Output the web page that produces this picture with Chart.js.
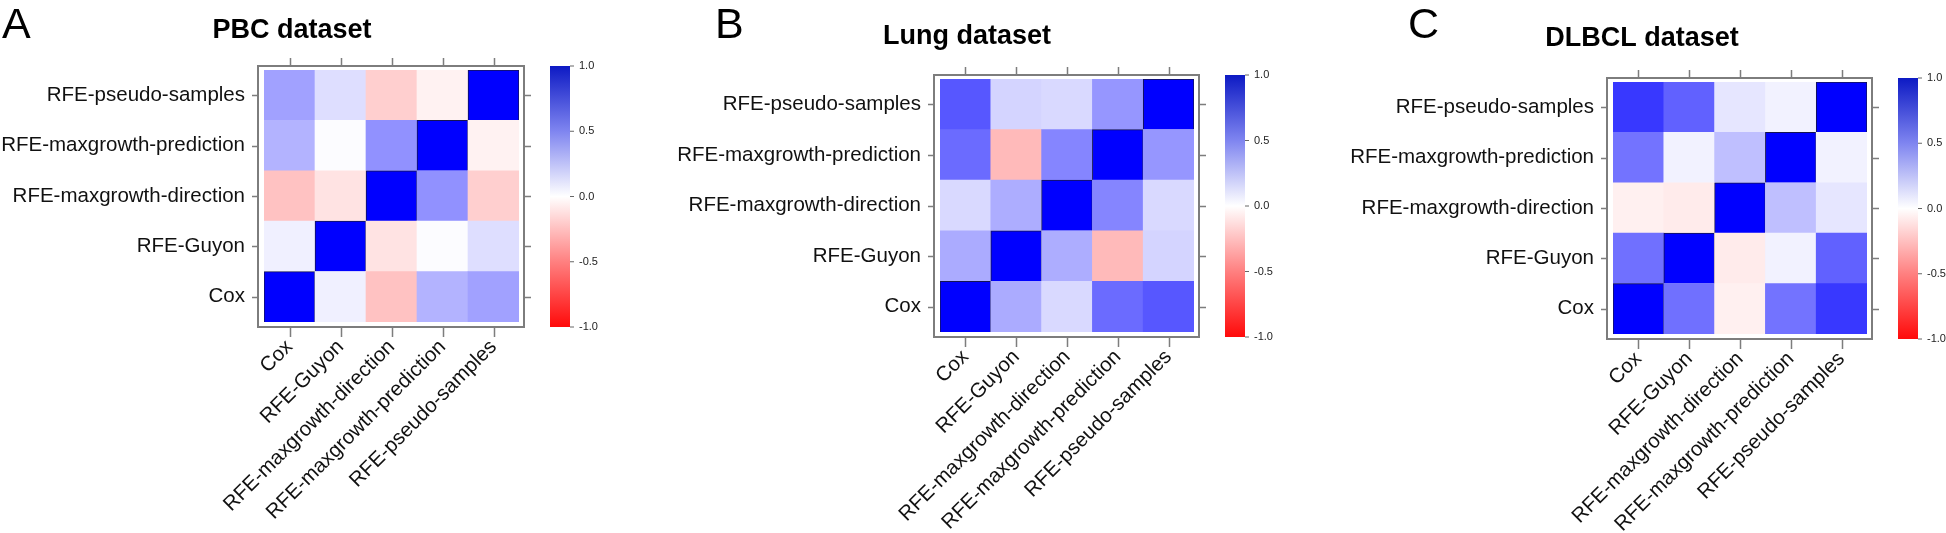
<!DOCTYPE html>
<html>
<head>
<meta charset="utf-8">
<script src="https://cdn.jsdelivr.net/npm/chart.js@4.4.1/dist/chart.umd.min.js"></script>
<style>
  html, body { margin: 0; padding: 0; background: #fff; }
  #wrap { position: relative; width: 1946px; height: 533px; overflow: hidden; }
  .panel { position: absolute; top: 0; width: 650px; height: 533px; }
</style>
</head>
<body>
<div id="wrap">
  <div class="panel" style="left:0px"><canvas id="pbc" width="650" height="533"></canvas></div>
  <div class="panel" style="left:650px"><canvas id="lung" width="650" height="533"></canvas></div>
  <div class="panel" style="left:1296px"><canvas id="dlbcl" width="650" height="533"></canvas></div>
</div>
<script>
// methods: columns left->right, rows bottom->top
const methods = ["Cox", "RFE-Guyon", "RFE-maxgrowth-direction", "RFE-maxgrowth-prediction", "RFE-pseudo-samples"];

// correlation matrices, row i belongs to methods[i]
const pbcCorr = [
  [ 1.00,  0.06, -0.24,  0.30,  0.37],
  [ 0.06,  1.00, -0.11,  0.01,  0.13],
  [-0.24, -0.11,  1.00,  0.43, -0.19],
  [ 0.30,  0.01,  0.43,  1.00, -0.05],
  [ 0.37,  0.13, -0.19, -0.05,  1.00]
];
const lungCorr = [
  [ 1.00,  0.33,  0.15,  0.58,  0.66],
  [ 0.33,  1.00,  0.32, -0.27,  0.17],
  [ 0.15,  0.32,  1.00,  0.48,  0.15],
  [ 0.58, -0.27,  0.48,  1.00,  0.41],
  [ 0.66,  0.17,  0.15,  0.41,  1.00]
];
const dlbclCorr = [
  [ 1.00,  0.56, -0.06,  0.55,  0.78],
  [ 0.56,  1.00, -0.08,  0.05,  0.62],
  [-0.06, -0.08,  1.00,  0.25,  0.10],
  [ 0.55,  0.05,  0.25,  1.00,  0.05],
  [ 0.78,  0.62,  0.10,  0.05,  1.00]
];

// colour key
const keyTicks = [-1, -0.5, 0, 0.5, 1];
const keyLabels = ["-1.0", "-0.5", "0.0", "0.5", "1.0"];

const FONT = "'Liberation Sans', Arial, Helvetica, sans-serif";

function corrColor(v) {
  const c = Math.round(255 * (1 - Math.min(1, Math.abs(v))));
  return v >= 0 ? `rgb(${c},${c},255)` : `rgb(255,${c},${c})`;
}

// frame, tick marks, colour key, title and panel letter
const decor = {
  id: "decor",
  afterDraw(chart, args, o) {
    const { ctx, chartArea: a, scales: { x, y } } = chart;
    const fl = a.left - 6, fr = a.right + 5, ft = a.top - 4, fb = a.bottom + 5;
    ctx.save();

    ctx.strokeStyle = "#7d7d7d";
    ctx.lineWidth = 2;
    ctx.strokeRect(fl, ft, fr - fl, fb - ft);

    ctx.lineWidth = 1.5;
    ctx.beginPath();
    methods.forEach((m, i) => {
      const px = Math.round(x.getPixelForTick(i)) + 0.5;
      ctx.moveTo(px, ft - 8); ctx.lineTo(px, ft);
      ctx.moveTo(px, fb); ctx.lineTo(px, fb + 10);
      const py = Math.round(y.getPixelForValue(i + 0.5)) + 0.5;
      ctx.moveTo(fl - 6, py); ctx.lineTo(fl, py);
      ctx.moveTo(fr, py); ctx.lineTo(fr + 7, py);
    });
    ctx.stroke();

    // colour key
    const kl = fr + 26, kw = 20, kt = ft, kb = fb;
    const g = ctx.createLinearGradient(0, kb, 0, kt);
    g.addColorStop(0, "#ff0a0a");
    g.addColorStop(0.25, "#ff8080");
    g.addColorStop(0.5, "#ffffff");
    g.addColorStop(0.75, "#7f85f0");
    g.addColorStop(1, "#0d1ac4");
    ctx.fillStyle = g;
    ctx.fillRect(kl, kt, kw, kb - kt);

    ctx.strokeStyle = "#666";
    ctx.lineWidth = 1;
    ctx.fillStyle = "#222";
    ctx.font = "11px " + FONT;
    ctx.textAlign = "left";
    ctx.textBaseline = "middle";
    keyTicks.forEach((v, i) => {
      const py = kb - (v + 1) / 2 * (kb - kt);
      ctx.beginPath();
      ctx.moveTo(kl + kw, py); ctx.lineTo(kl + kw + 4, py);
      ctx.stroke();
      ctx.fillText(keyLabels[i], kl + kw + 9, py);
    });

    // title and letter
    ctx.fillStyle = "#000";
    ctx.textBaseline = "alphabetic";
    ctx.textAlign = "center";
    ctx.font = "bold 27px " + FONT;
    ctx.fillText(o.title, o.titleX, o.titleY);
    ctx.textAlign = "left";
    ctx.font = "43px " + FONT;
    ctx.fillText(o.letter, o.letterX, 38);
    ctx.restore();
  }
};

function makePanel(id, corr, lay) {
  const datasets = methods.map((m, r) => ({
    label: m,
    data: methods.map(() => 1),
    backgroundColor: corr[r].map(corrColor),
    borderColor: corr[r].map(v => v >= 0.999 ? "#141450" : "rgba(0,0,0,0)"),
    borderWidth: corr[r].map(v => v >= 0.999 ? 1 : 0),
    barPercentage: 1,
    categoryPercentage: 1,
    stack: "cells"
  }));

  return new Chart(document.getElementById(id), {
    type: "bar",
    data: { labels: methods, datasets },
    plugins: [decor],
    options: {
      responsive: false,
      animation: false,
      layout: { padding: { left: 0, top: lay.top, right: lay.right, bottom: 0 } },
      plugins: {
        legend: { display: false },
        tooltip: { enabled: false },
        decor: lay
      },
      scales: {
        x: {
          stacked: true,
          offset: true,
          grid: { display: false, drawTicks: false },
          border: { display: false },
          ticks: {
            autoSkip: false,
            minRotation: 45,
            maxRotation: 45,
            padding: 13,
            color: "#111",
            font: { family: FONT, size: 20.5 }
          },
          afterFit: s => { s.height = lay.bottom; }
        },
        y: {
          stacked: true,
          min: 0,
          max: 5,
          grid: { display: false, drawTicks: false },
          border: { display: false },
          afterBuildTicks: s => { s.ticks = methods.map((m, i) => ({ value: i + 0.5 })); },
          ticks: {
            autoSkip: false,
            padding: 19,
            color: "#111",
            font: { family: FONT, size: 20.5 },
            callback: (v, i) => methods[i]
          },
          afterFit: s => { s.width = lay.left; }
        }
      }
    }
  });
}

makePanel("pbc", pbcCorr, { left: 264, right: 131, top: 70, bottom: 211,
  title: "PBC dataset", titleX: 292, titleY: 38, letter: "A", letterX: 2 });
makePanel("lung", lungCorr, { left: 290, right: 106, top: 79, bottom: 201,
  title: "Lung dataset", titleX: 317, titleY: 44, letter: "B", letterX: 65 });
makePanel("dlbcl", dlbclCorr, { left: 317, right: 79, top: 82, bottom: 199,
  title: "DLBCL dataset", titleX: 346, titleY: 46, letter: "C", letterX: 112 });
</script>
</body>
</html>
